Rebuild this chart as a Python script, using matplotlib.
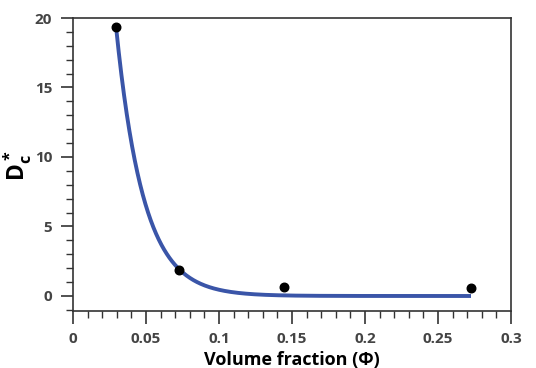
import numpy as np
import matplotlib
matplotlib.use("Agg")
import matplotlib.pyplot as plt
from matplotlib.ticker import MultipleLocator

# Measured diffusion coefficient vs volume fraction
phi = [0.0295, 0.0726, 0.1445, 0.2726]
dc = [19.35, 1.88, 0.65, 0.58]

# Exponential decay fit: D = A * exp(-k * phi) + c
fit_k = 53.4
fit_A = 19.35 * np.exp(fit_k * 0.0295)
fit_c = 0.0

x_ticks = [0, 0.05, 0.1, 0.15, 0.2, 0.25, 0.3]
x_tick_labels = ["0", "0.05", "0.1", "0.15", "0.2", "0.25", "0.3"]
y_ticks = [0, 5, 10, 15, 20]

plt.rcParams["font.family"] = ["Open Sans", "DejaVu Sans"]
plt.rcParams["mathtext.fontset"] = "custom"
plt.rcParams["mathtext.bf"] = "Open Sans:bold"
plt.rcParams["mathtext.rm"] = "Open Sans:bold"
plt.rcParams["mathtext.it"] = "Open Sans:bold"

W, H = 536, 368
fig = plt.figure(figsize=(W / 100, H / 100), dpi=100)
ax = fig.add_axes([73 / W, 1 - 311 / H, (511 - 73) / W, (311 - 18) / H])

xf = np.linspace(phi[0], phi[-1], 400)
ax.plot(xf, fit_A * np.exp(-fit_k * xf) + fit_c, color="#3a55a8", lw=2.8, zorder=2,
        solid_capstyle="butt")
ax.scatter(phi, dc, s=38, color="black", zorder=3)

ax.set_xlim(0, 0.3)
ax.set_ylim(-1.08, 20)
ax.set_xticks(x_ticks)
ax.set_xticklabels(x_tick_labels)
ax.set_yticks(y_ticks)
ax.xaxis.set_minor_locator(MultipleLocator(0.01))
ax.yaxis.set_minor_locator(MultipleLocator(1))

ax.tick_params(axis="both", which="major", direction="out", length=9, width=1.2,
               color="#333333", labelsize=11, labelcolor="#444444", pad=6)
ax.tick_params(axis="both", which="minor", direction="out", length=5, width=1.0,
               color="#333333")
for lab in ax.get_xticklabels() + ax.get_yticklabels():
    lab.set_fontweight("bold")

for s in ax.spines.values():
    s.set_linewidth(1.2)
    s.set_color("#333333")

ax.set_xlabel("Volume fraction (Φ)", fontsize=13, fontweight="bold", labelpad=4)
fig.text(18 / W, 1 - 166 / H, r"$\mathbf{D_c^*}$", fontsize=16.5, rotation=90,
         ha="center", va="center")

fig.savefig("out.png", dpi=100)
